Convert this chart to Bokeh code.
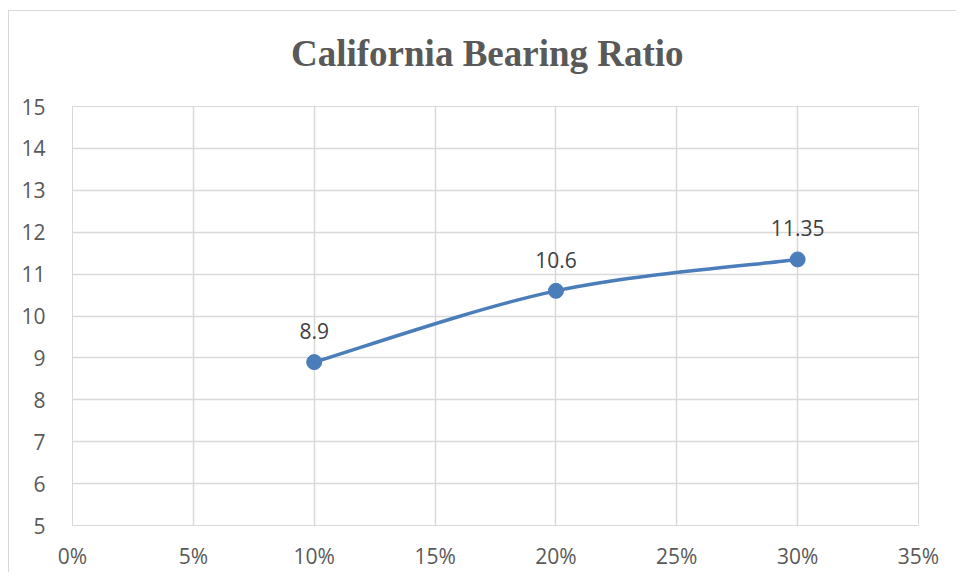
from bokeh.plotting import figure
from bokeh.layouts import column
from bokeh.models import Range1d, FixedTicker, NumeralTickFormatter, ColumnDataSource, Div
from bokeh.core.properties import value
from bokeh.embed import file_html
from bokeh.resources import INLINE

# data
moisture = [0.10, 0.20, 0.30]
cbr = [8.9, 10.6, 11.35]
cbr_labels = ["8.9", "10.6", "11.35"]
x_ticks = [0, 0.05, 0.10, 0.15, 0.20, 0.25, 0.30, 0.35]
y_ticks = [5, 6, 7, 8, 9, 10, 11, 12, 13, 14, 15]
title_text = "California Bearing Ratio"

BLUE = "#4a7dba"
GRID = "#d9d9d9"
TXT = "#595959"

FIG_W = 63 + 846 + 38

p = figure(
    output_backend="svg", toolbar_location=None,
    frame_width=846, frame_height=419,
    min_border_left=63, min_border_right=38, min_border_top=25, min_border_bottom=44,
    x_range=Range1d(0, 0.35), y_range=Range1d(5, 15),
)

title = Div(
    text=f"<div style=\"font-family:'Liberation Serif';font-weight:bold;font-size:37px;"
         f"color:{TXT};text-align:left;line-height:42px;padding-top:22px;"
         f"padding-left:282px;white-space:nowrap;\">{title_text}</div>",
    width=FIG_W, height=70, margin=0,
)

p.outline_line_color = GRID
p.background_fill_color = "white"
p.border_fill_color = "white"

for ax in (p.xaxis[0], p.yaxis[0]):
    ax.axis_line_color = None
    ax.major_tick_line_color = None
    ax.minor_tick_line_color = None
    ax.major_label_text_font = "Open Sans"
    ax.major_label_text_font_size = "21px"
    ax.major_label_text_color = TXT

p.xaxis.ticker = FixedTicker(ticks=x_ticks)
p.xaxis.formatter = NumeralTickFormatter(format="0%")
p.yaxis.ticker = FixedTicker(ticks=y_ticks)
p.xaxis.major_label_standoff = 10
p.yaxis.major_label_standoff = 21

p.xgrid.ticker = FixedTicker(ticks=x_ticks)
p.ygrid.ticker = FixedTicker(ticks=y_ticks)
p.grid.grid_line_color = GRID
p.grid.grid_line_width = 1.5

# smoothed line (Catmull-Rom style bezier segments through the data points)
xs0, ys0, xs1, ys1, cx0, cy0, cx1, cy1 = [], [], [], [], [], [], [], []
n = len(moisture)
for i in range(n - 1):
    xp = moisture[max(i - 1, 0)]; yp = cbr[max(i - 1, 0)]
    xa = moisture[i]; ya = cbr[i]
    xb = moisture[i + 1]; yb = cbr[i + 1]
    xn = moisture[min(i + 2, n - 1)]; yn = cbr[min(i + 2, n - 1)]
    xs0.append(xa); ys0.append(ya); xs1.append(xb); ys1.append(yb)
    cx0.append(xa + (xb - xp) / 6); cy0.append(ya + (yb - yp) / 6)
    cx1.append(xb - (xn - xa) / 6); cy1.append(yb - (yn - ya) / 6)

p.bezier(x0=xs0, y0=ys0, x1=xs1, y1=ys1, cx0=cx0, cy0=cy0, cx1=cx1, cy1=cy1,
         line_color=BLUE, line_width=3.5)

src = ColumnDataSource(dict(x=moisture, y=cbr, t=cbr_labels))
p.scatter("x", "y", source=src, size=15, fill_color=BLUE, line_color=BLUE)
p.text("x", "y", text="t", source=src, text_align="center", text_baseline="alphabetic",
       y_offset=-31, text_font=value("Open Sans"), text_font_size="21px", text_color="#404040")

layout = column(title, p, spacing=0)
layout.styles = {"margin-left": "8px", "margin-top": "10px", "background-color": "white",
                 "border-left": f"1px solid {GRID}", "border-top": f"1px solid {GRID}"}

open("out.html", "w").write(file_html(layout, INLINE))
